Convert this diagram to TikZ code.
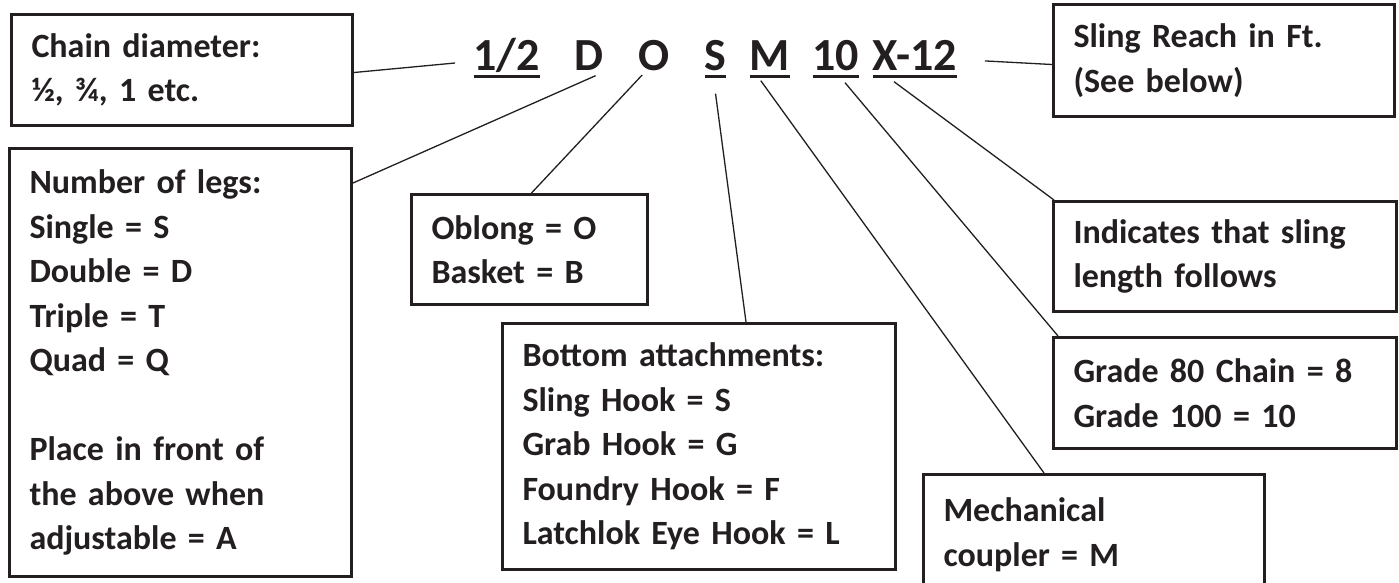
\documentclass[tikz,border=0pt]{standalone}
\usepackage{fontspec}
\setmainfont{Carlito}
\definecolor{ink}{RGB}{35,31,32}
\newcommand\ulcode[1]{\setbox0\hbox{#1}\rlap{\rule[-8pt]{\wd0}{3.5pt}}\box0}

\begin{document}
\begin{tikzpicture}[x=1pt,y=-1pt,line width=1.3pt,draw=ink,text=ink]
\tikzstyle{box}=[draw=ink,line width=3pt,anchor=north west,inner xsep=20pt,
                 inner ysep=0pt,align=left,font=\fontsize{34}{44.5}\selectfont\bfseries]
\tikzstyle{code}=[anchor=base west,inner sep=0pt,font=\fontsize{46}{50}\selectfont\bfseries]
\useasboundingbox (0,0) rectangle (1399,582);
\clip (0,0) rectangle (1399,582);
% the code
\node[code] (half) at (473,70) {\ulcode{1/2}};
\node[code] (d) at (574,70) {D};
\node[code] (o) at (638,70) {O};
\node[code] (s) at (704,70) {\ulcode{S}};
\node[code] (m) at (749,70) {\ulcode{M}};
\node[code] (ten) at (812,70) {\ulcode{10}};
\node[code] (xtwelve) at (872,70) {\ulcode{X-12}};
% the boxes
\node[box,text width=301pt,minimum height=111pt] (chain) at (10,13)
  {Chain diameter:\\ ½, ¾, 1 etc.};
\node[box,text width=302pt,minimum height=428pt] (legs) at (8,147)
  {Number of legs:\\ Single = S\\ Double = D\\ Triple = T\\ Quad = Q\\[44.5pt]
   Place in front of\\ the above when\\ adjustable = A};
\node[box,text width=196pt,minimum height=110pt] (oblong) at (410,193)
  {Oblong = O\\ Basket = B};
\node[box,text width=353pt,minimum height=246pt] (bottom) at (501,322)
  {Bottom attachments:\\ Sling Hook = S\\ Grab Hook = G\\ Foundry Hook = F\\
   Latchlok Eye Hook = L};
\node[box,text width=301pt,minimum height=120pt] (mech) at (922,473)
  {Mechanical\\ coupler = M};
\node[box,text width=301pt,minimum height=112pt] (sling) at (1052,3)
  {Sling Reach in Ft.\\ (See below)};
\node[box,text width=303pt,minimum height=110pt] (indic) at (1052,200)
  {Indicates that sling\\ length follows};
\node[box,text width=303pt,minimum height=111pt] (grade) at (1052,336)
  {Grade 80 Chain = 8\\ Grade 100 = 10};
% the leader lines
\path ([yshift=-2.5pt]chain.east) edge ([xshift=-18pt,yshift=7pt]half.base west)
      ([xshift=6.5pt,yshift=-5pt]d.south) edge ([yshift=-36pt]legs.north east)
      ([xshift=-12pt,yshift=-4pt]o.south) edge ([xshift=2pt]oblong.north)
      ([yshift=-15pt]s.south) edge ([xshift=245pt]bottom.north west)
      ([xshift=-9pt,yshift=-2pt]m.south) edge ([xshift=122pt]mech.north west)
      ([xshift=9pt,yshift=-4pt]ten.south) edge ([xshift=6pt]grade.north west)
      ([xshift=-21pt,yshift=-3pt]xtwelve.south) edge ([xshift=2pt]indic.north west)
      ([xshift=27pt,yshift=-2pt]xtwelve.east) edge ([yshift=-4pt]sling.west);
\end{tikzpicture}
\end{document}
